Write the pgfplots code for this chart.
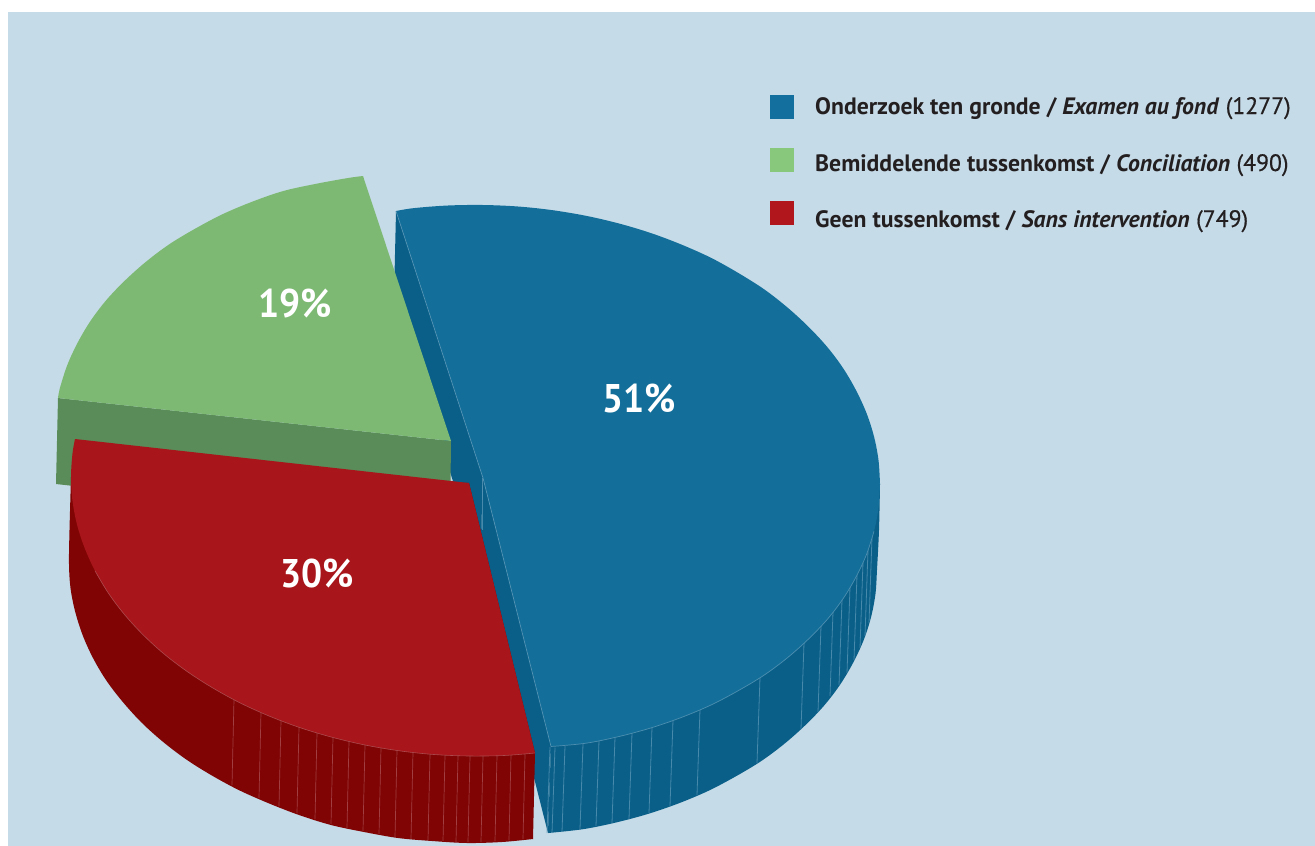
\documentclass[border=0pt]{standalone}
\usepackage{fontspec}
\setmainfont{PT Sans}
\usepackage{pgfplots}
\usepackage{pgfplotstable}
\pgfplotsset{compat=1.18}

\definecolor{panel}{HTML}{C6DBE8}
\definecolor{blueTop}{HTML}{136F9A}
\definecolor{blueSide}{HTML}{0A5F88}
\definecolor{blueEdge}{HTML}{5C98B8}
\definecolor{greenTop}{HTML}{7DB973}
\definecolor{greenSide}{HTML}{5A8C59}
\definecolor{redTop}{HTML}{A8151A}
\definecolor{redSide}{HTML}{800404}
\definecolor{redEdge}{HTML}{B0585C}
\definecolor{legBlue}{HTML}{136F9E}
\definecolor{legGreen}{HTML}{88C87D}
\definecolor{legRed}{HTML}{B0161B}
\definecolor{ink}{HTML}{231F20}

\newcommand{\amount}[1]{{\addfontfeature{FakeBold=0.6}#1}}

% Rims of the three slices, in page pixels
\pgfplotstableread{
x y
396 211
414 208.1
448 205.5
483 205
518 206.5
552 210.1
586 215.8
619 223.5
651 233.1
681.5 244.6
711 257.8
738 272.8
764 289.2
787 307.1
808 326.3
827 346.7
843 368
856 390.2
866.5 413.1
874 436.5
878.5 460.1
880 484
}\blueTopUpperTable

\pgfplotstableread{
x y
880 484
878.5 507.7
874 531.3
866.5 554.5
856 577
843 598.8
827 619.7
808 639.5
787 658.1
764 675.2
738 690.8
711 705
681.5 717.4
651 727.9
619 736.5
586 743.2
551 746.5
}\blueTopLowerTable

\pgfplotstableread{
x y
880 484
879 530
877 570
875.5 593.7
871 617.3
863.5 640.5
853 663
840 684.8
824 705.7
805 725.5
784 744.1
761 761.2
735 776.8
708 791
678.5 803.4
648 813.9
616 822.5
583 829.2
548 833
}\blueSideTable

\pgfplotstableread{
x y
874 531.3
866.5 554.5
856 577
843 598.8
827 619.7
808 639.5
787 658.1
764 675.2
738 690.8
711 705
681.5 717.4
651 727.9
619 736.5
586 743.2
551 746.5
}\blueRimTable

\pgfplotstableread{
x y
58 398
60 387.7
67.5 364.5
78 342
91 320.2
107 299.3
126 279.5
147 260.9
170 243.8
196 228.2
223 214
252.5 201.6
283 191.1
315 184
348 178
363 176
}\greenTopTable

\pgfplotstableread{
x y
75 439
72.5 453.3
71 477
72.5 500.9
77 524.5
84.6 547.9
95 570.8
108.3 593
124.3 614.3
143 634.7
164 653.9
187.6 671.8
213.2 688.2
240.7 703.2
270 716.4
300.8 727.9
333 737.5
366 745.2
400 750.9
434 754.5
469 756
504 755.5
535 753
}\redTopTable

\pgfplotstableread{
x y
71 477
69.5 530
69 564
70.5 588
75 611
82.6 635
93 658
106 680
122 701
141 722
162 741
185.6 759
211 775
238.7 790
268 803
299 815
331 825
364 832
398 838
432 841
467 843
502 842
533 839
}\redSideTable

\pgfplotstableread{
x y
95 570.8
108.3 593
124.3 614.3
143 634.7
164 653.9
187.6 671.8
213.2 688.2
240.7 703.2
270 716.4
300.8 727.9
333 737.5
366 745.2
400 750.9
434 754.5
469 756
504 755.5
535 753
}\redRimTable

\begin{document}
\begin{tikzpicture}
\begin{axis}[
  scale only axis, width=1315pt, height=846pt,
  xmin=0, xmax=1315, ymin=0, ymax=846, y dir=reverse,
  axis lines=none, clip=true,
  blueline/.style={draw=blueEdge, line width=0.8pt, opacity=0.75, no markers},
  redline/.style={draw=redEdge, line width=0.7pt, opacity=0.7, no markers},
  solidface/.style={draw=none, no markers},
  curvedface/.style={draw=none, no markers, smooth, tension=0.55},
]
% page and panel
\addplot[solidface, fill=white] coordinates {(0,0) (1315,0) (1315,846) (0,846)};
\addplot[solidface, fill=panel] coordinates {(8,12) (1315,12) (1315,846) (8,846)};

% blue slice: inner faces, outer wall, facet lines, top
\addplot[solidface, fill=blueSide] coordinates {(396,211) (483,478) (480,565) (394,298)};
\addplot[solidface, fill=blueSide] coordinates {(483,478) (551,746) (548,833) (480,565)};
\addplot[curvedface, fill=blueSide] table {\blueSideTable};
\addplot[solidface, fill=blueSide] coordinates {(880,484) (700,760) (548,833) (551,746)};
\addplot[blueline] coordinates {(482,478) (482,530)};
\addplot[blueline] coordinates {(550,747) (547,833)};
\addplot[blueline] coordinates {(555,747.5) (552,833)};
\addplot[blueline] coordinates {(565,746) (562,832)};
\addplot[blueline] coordinates {(583,743.8) (580,829)};
\addplot[blueline] coordinates {(599,740.6) (596,826)};
\addplot[blueline] coordinates {(615,737.3) (612,823)};
\addplot[blueline] coordinates {(632,733) (629,819)};
\addplot[blueline] coordinates {(652,727.6) (649,813)};
\addplot[blueline] coordinates {(673,720.3) (670,806)};
\addplot[blueline] coordinates {(700,709.6) (697,795)};
\addplot[blueline] coordinates {(760,677.6) (757,763)};
\addplot[blueline] coordinates {(804,643) (801,729)};
\addplot[blueline] coordinates {(821,626) (818,712)};
\addplot[blueline] coordinates {(833,612) (830,696)};
\addplot[blueline] coordinates {(842,600) (839,685)};
\addplot[blueline] coordinates {(850,587) (847,673)};
\addplot[blueline] coordinates {(857,575) (854,660)};
\addplot[blueline] coordinates {(863,562) (860,648)};
\addplot[blueline] coordinates {(868,550) (865,636)};
\addplot[blueline] coordinates {(872,537) (869,623)};
\addplot[curvedface, fill=blueTop] table {\blueTopUpperTable};
\addplot[curvedface, fill=blueTop] table {\blueTopLowerTable};
\addplot[solidface, fill=blueTop] coordinates {(483,478) (396,211) (600,250) (800,380) (880,484) (760,640) (551,746.5)};
\addplot[draw=blueEdge, line width=0.7pt, opacity=0.8, no markers, smooth, tension=0.55] table {\blueRimTable};
\addplot[draw=blueEdge, line width=0.7pt, opacity=0.8, no markers] coordinates {(551,746.5) (483,478) (396,211)};

% green slice
\addplot[solidface, fill=greenSide] coordinates {(58,398) (451,441) (450,528) (56,484)};
\addplot[curvedface, fill=greenTop] table {\greenTopTable};
\addplot[solidface, fill=greenTop] coordinates {(451,441) (58,398) (180,260) (363,176)};

% red slice
\addplot[curvedface, fill=redSide] table {\redSideTable};
\addplot[solidface, fill=redSide] coordinates {(71,477) (300,780) (533,839) (535,753) (469,483)};
\addplot[redline] coordinates {(234,699.5) (232,785)};
\addplot[redline] coordinates {(261,712.3) (259,798)};
\addplot[redline] coordinates {(281,720.5) (279,806)};
\addplot[redline] coordinates {(299,727.2) (297,813)};
\addplot[redline] coordinates {(317,732.7) (315,819)};
\addplot[redline] coordinates {(333,737.5) (331,824)};
\addplot[redline] coordinates {(349,741.2) (347,828)};
\addplot[redline] coordinates {(365,745) (363,831)};
\addplot[redline] coordinates {(381,747.7) (379,834)};
\addplot[redline] coordinates {(397,750.4) (395,837)};
\addplot[redline] coordinates {(413,752.3) (411,839)};
\addplot[redline] coordinates {(430,754) (428,840)};
\addplot[redline] coordinates {(445,755) (443,841)};
\addplot[redline] coordinates {(458,755.5) (456,842)};
\addplot[redline] coordinates {(470,756) (468,842)};
\addplot[redline] coordinates {(483,755.8) (481,842)};
\addplot[redline] coordinates {(497,755.6) (495,841)};
\addplot[redline] coordinates {(511,755) (509,840)};
\addplot[redline] coordinates {(525,754) (523,839)};
\addplot[curvedface, fill=redTop] table {\redTopTable};
\addplot[solidface, fill=redTop] coordinates {(469,483) (75,439) (200,650) (535,753)};
\addplot[draw=redEdge, line width=0.6pt, opacity=0.8, no markers, smooth, tension=0.55] table {\redRimTable};

% percentages
\node[text=white, font=\fontsize{40}{40}\selectfont\bfseries\addfontfeature{FakeStretch=0.93}] at (axis cs:639,398) {51\%};
\node[text=white, font=\fontsize{40}{40}\selectfont\bfseries\addfontfeature{FakeStretch=0.93}] at (axis cs:295,303) {19\%};
\node[text=white, font=\fontsize{40}{40}\selectfont\bfseries\addfontfeature{FakeStretch=0.93}] at (axis cs:317,573) {30\%};

% key
\addplot[solidface, fill=legBlue] coordinates {(770,95) (794,95) (794,119) (770,119)};
\addplot[solidface, fill=legGreen] coordinates {(770,148) (794,148) (794,172) (770,172)};
\addplot[solidface, fill=legRed] coordinates {(770,201) (794,201) (794,225) (770,225)};
\node[anchor=base west, inner sep=0pt, text=ink, font=\fontsize{23.7}{24}\selectfont] at (axis cs:815,114) {\textbf{Onderzoek ten gronde / \textit{Examen au fond}} \amount{(1277)}};
\node[anchor=base west, inner sep=0pt, text=ink, font=\fontsize{23.7}{24}\selectfont] at (axis cs:815,171) {\textbf{Bemiddelende tussenkomst / \textit{Conciliation}} \amount{(490)}};
\node[anchor=base west, inner sep=0pt, text=ink, font=\fontsize{23.7}{24}\selectfont] at (axis cs:815,227) {\textbf{Geen tussenkomst / \textit{Sans intervention}} \amount{(749)}};
\end{axis}
\end{tikzpicture}
\end{document}
